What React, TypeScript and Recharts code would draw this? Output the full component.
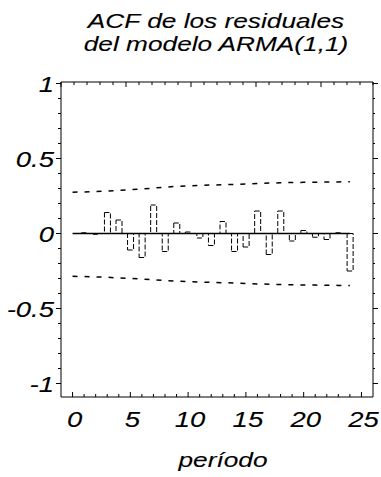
import { ComposedChart, Bar, Line, XAxis, YAxis, ReferenceLine } from "recharts";

// autocorrelaciones de los residuales, rezagos 1..24
const lags = [1, 2, 3, 4, 5, 6, 7, 8, 9, 10, 11, 12, 13, 14, 15, 16, 17, 18, 19, 20, 21, 22, 23, 24];
const acf = [
  0.005, -0.005, 0.14, 0.09, -0.11, -0.16, 0.19, -0.12, 0.07, 0.01, -0.03, -0.08,
  0.08, -0.12, -0.09, 0.15, -0.14, 0.15, -0.05, 0.02, -0.025, -0.04, 0.005, -0.25,
];

// bandas de confianza, rezagos 0..24
const bandLags = [0, 1, 2, 3, 4, 5, 6, 7, 8, 9, 10, 11, 12, 13, 14, 15, 16, 17, 18, 19, 20, 21, 22, 23, 24];
const upper = [
  0.275, 0.277, 0.279, 0.283, 0.288, 0.292, 0.296, 0.303, 0.309, 0.314, 0.318, 0.321, 0.323,
  0.325, 0.327, 0.33, 0.333, 0.336, 0.338, 0.34, 0.341, 0.342, 0.343, 0.344, 0.345,
];
const lower = [
  -0.285, -0.287, -0.289, -0.292, -0.296, -0.299, -0.303, -0.309, -0.314, -0.318, -0.321, -0.324, -0.326,
  -0.328, -0.33, -0.333, -0.336, -0.338, -0.34, -0.342, -0.343, -0.344, -0.345, -0.346, -0.347,
];

const xTicks = [0, 1, 2, 3, 4, 5, 6, 7, 8, 9, 10, 11, 12, 13, 14, 15, 16, 17, 18, 19, 20, 21, 22, 23, 24, 25];
const xLabels = ["0", "5", "10", "15", "20", "25"];
const yTicks = [-1, -0.9, -0.8, -0.7, -0.6, -0.5, -0.4, -0.3, -0.2, -0.1, 0, 0.1, 0.2, 0.3, 0.4, 0.5, 0.6, 0.7, 0.8, 0.9, 1];
const yLabels = ["-1", "-0.5", "0", "0.5", "1"];

const FONT = '"Liberation Sans", Arial, sans-serif';
const SX = 1.25;

const data = bandLags.map((lag, i) => {
  const k = lags.indexOf(lag);
  return { lag, acf: k >= 0 ? acf[k] : null, upper: upper[i], lower: lower[i] };
});

function isMajor(v: number, step: number) {
  return Math.abs(v / step - Math.round(v / step)) < 1e-6;
}

const textProps = {
  fontSize: 22,
  fontStyle: "italic",
  fontFamily: FONT,
  fill: "#000",
  stroke: "#000",
  strokeWidth: 0.1,
};

function LeftTick({ x, y, payload }: any) {
  const v = payload.value as number;
  const major = isMajor(v, 0.5);
  const label = yLabels.find((l) => Math.abs(parseFloat(l) - v) < 1e-6);
  return (
    <g>
      <line x1={x - (major ? 5 : 3)} x2={x} y1={y} y2={y} stroke="#000" />
      {major && label && (
        <text transform={`translate(${x - 7},${y + 8}) scale(${SX},1)`} textAnchor="end" {...textProps}>
          {label}
        </text>
      )}
    </g>
  );
}

function RightTick({ x, y, payload }: any) {
  const major = isMajor(payload.value, 0.5);
  return <line x1={x} x2={x + (major ? 5 : 2)} y1={y} y2={y} stroke="#000" />;
}

function BottomTick({ x, y, payload }: any) {
  const v = payload.value as number;
  const major = isMajor(v, 5);
  const label = xLabels.find((l) => parseFloat(l) === v);
  return (
    <g>
      <line x1={x} x2={x} y1={y} y2={y - (major ? 5 : 3)} stroke="#000" />
      {label && (
        <text transform={`translate(${x + 2},${y + 30}) scale(${SX},1)`} textAnchor="middle" {...textProps}>
          {label}
        </text>
      )}
    </g>
  );
}

function TopTick({ x, y, payload }: any) {
  const major = isMajor(payload.value, 5);
  return <line x1={x} x2={x} y1={y} y2={y + (major ? 5 : 3)} stroke="#000" />;
}

export default function App() {
  return (
    <div style={{ position: "absolute", left: 0, top: 0, width: 381, height: 477, background: "#fff" }}>
      <ComposedChart
        width={381}
        height={477}
        data={data}
        margin={{ top: 72, right: 0, bottom: 0, left: 0 }}
      >
        <XAxis
          dataKey="lag"
          type="number"
          domain={[-1, 26]}
          ticks={xTicks}
          interval={0}
          allowDataOverflow
          height={80}
          stroke="#000"
          tickLine={false}
          tickSize={0}
          tickMargin={0}
          tick={<BottomTick />}
        />
        <XAxis
          xAxisId="top"
          orientation="top"
          type="number"
          domain={[-1, 26]}
          ticks={xTicks}
          interval={0}
          allowDataOverflow
          height={10}
          stroke="#000"
          tickLine={false}
          tickSize={0}
          tickMargin={0}
          tick={<TopTick />}
        />
        <YAxis
          type="number"
          domain={[-1.09, 1.01]}
          ticks={yTicks}
          interval={0}
          allowDataOverflow
          width={61}
          stroke="#000"
          tickLine={false}
          tickSize={0}
          tickMargin={0}
          tick={<LeftTick />}
        />
        <YAxis
          yAxisId="right"
          orientation="right"
          type="number"
          domain={[-1.09, 1.01]}
          ticks={yTicks}
          interval={0}
          allowDataOverflow
          width={8}
          stroke="#000"
          tickLine={false}
          tickSize={0}
          tickMargin={0}
          tick={<RightTick />}
        />
        <ReferenceLine
          segment={[
            { x: 0, y: 0 },
            { x: 24, y: 0 },
          ]}
          stroke="#000"
          strokeWidth={1.5}
        />
        <Bar
          dataKey="acf"
          barSize={6}
          fill="#fff"
          stroke="#000"
          strokeWidth={1}
          strokeDasharray="5 2"
          isAnimationActive={false}
        />
        <Line
          dataKey="upper"
          stroke="#000"
          strokeWidth={1.5}
          strokeDasharray="5 7"
          dot={false}
          isAnimationActive={false}
        />
        <Line
          dataKey="lower"
          stroke="#000"
          strokeWidth={1.5}
          strokeDasharray="5 7"
          dot={false}
          isAnimationActive={false}
        />
      </ComposedChart>
      <svg
        width={381}
        height={477}
        style={{ position: "absolute", left: 0, top: 0, pointerEvents: "none" }}
      >
        <g fontFamily={FONT} fontStyle="italic" fontSize={21} fill="#000" stroke="#000" strokeWidth={0.1}>
          <text transform={`translate(216,28) scale(${SX},1)`} textAnchor="middle">
            ACF de los residuales
          </text>
          <text transform={`translate(216,51) scale(${SX},1)`} textAnchor="middle">
            del modelo ARMA(1,1)
          </text>
          <text transform={`translate(223,467) scale(${SX},1)`} textAnchor="middle">
            período
          </text>
        </g>
      </svg>
    </div>
  );
}
